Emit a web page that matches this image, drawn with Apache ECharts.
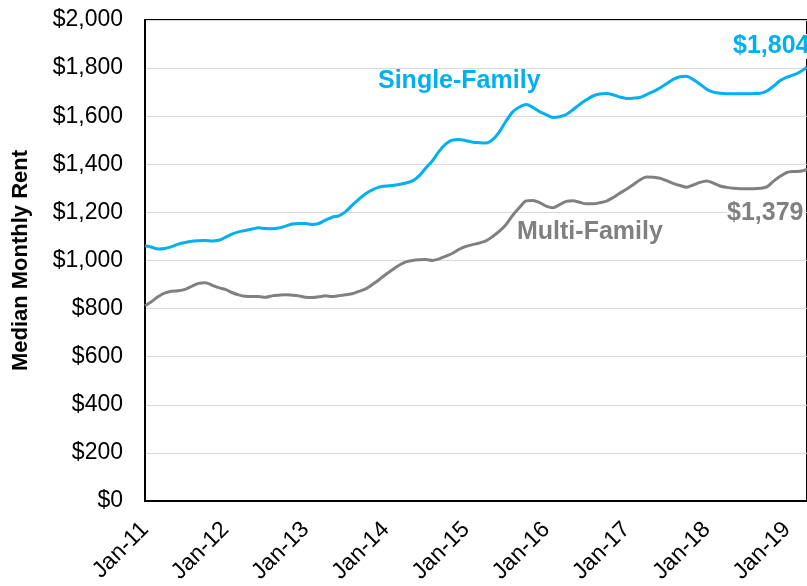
<!DOCTYPE html>
<html>
<head>
<meta charset="utf-8">
<script src="https://cdn.jsdelivr.net/npm/echarts@6/dist/echarts.min.js"></script>
<style>
  html, body { margin: 0; padding: 0; background: #fff; }
  #main { width: 807px; height: 586px; }
</style>
</head>
<body>
<div id="main"></div>
<script>
// month labels Jan-11 .. Apr-19
var monthNames = ['Jan','Feb','Mar','Apr','May','Jun','Jul','Aug','Sep','Oct','Nov','Dec'];
var years = ['11','12','13','14','15','16','17','18','19'];
var lastMonthCount = 4; // data stops in Apr-19

// median monthly rent, single-family
var singleFamily = [
  1061,1055,1048,1050,1058,1068,1075,1080,1082,1083,1081,1084,
  1096,1110,1119,1125,1131,1136,1133,1132,1135,1143,1152,1154,
  1154,1150,1154,1168,1180,1186,1203,1230,1255,1278,1294,1305,
  1310,1312,1316,1322,1331,1352,1385,1415,1455,1485,1501,1503,
  1498,1492,1490,1489,1503,1535,1580,1618,1638,1649,1637,1619,
  1606,1595,1598,1607,1627,1649,1668,1684,1692,1694,1689,1680,
  1674,1675,1678,1690,1702,1717,1735,1753,1764,1766,1752,1733,
  1712,1700,1695,1693,1693,1693,1693,1694,1695,1705,1725,1748,
  1762,1772,1785,1804
];
// median monthly rent, multi-family
var multiFamily = [
  812,830,850,865,872,874,880,893,905,908,898,887,
  880,867,857,851,850,850,847,853,856,858,856,853,
  847,846,849,853,850,854,858,862,872,882,900,920,
  942,962,980,994,1000,1003,1004,1000,1007,1018,1030,1047,
  1059,1066,1073,1082,1100,1122,1150,1188,1220,1248,1250,1241,
  1226,1219,1232,1246,1248,1242,1236,1236,1240,1247,1262,1280,
  1296,1315,1335,1347,1346,1342,1332,1321,1312,1305,1314,1325,
  1331,1322,1310,1304,1300,1298,1298,1298,1300,1306,1330,1350,
  1366,1370,1371,1379
];
var yTicks = [0, 200, 400, 600, 800, 1000, 1200, 1400, 1600, 1800, 2000];

var categories = [];
years.forEach(function (y, k) {
  var n = (k === years.length - 1) ? lastMonthCount : 12;
  for (var m = 0; m < n; m++) categories.push(monthNames[m] + '-' + y);
});

var blue = '#00b0f0', gray = '#808080';
var font = 'Liberation Sans, Arial, sans-serif';

function money(v) {
  return '$' + String(v).replace(/\B(?=(\d{3})+(?!\d))/g, ',');
}

var myChart = echarts.init(document.getElementById('main'));
var option = {
  animation: false,
  backgroundColor: '#fff',
  grid: {
    left: 145, top: 20, width: 664, height: 482,
    show: true, borderColor: '#000', borderWidth: 2
  },
  xAxis: {
    type: 'category',
    data: categories,
    boundaryGap: false,
    axisLine: { lineStyle: { color: '#000', width: 2 } },
    axisTick: { show: false },
    axisLabel: {
      interval: function (i) { return i % 12 === 0; },
      rotate: 45,
      margin: 25,
      color: '#000',
      fontSize: 23,
      fontFamily: font
    },
    splitLine: { show: false }
  },
  yAxis: {
    type: 'value',
    min: yTicks[0],
    max: yTicks[yTicks.length - 1],
    interval: 200,
    name: 'Median Monthly Rent',
    nameLocation: 'middle',
    nameGap: 113,
    nameTextStyle: { fontSize: 22, fontWeight: 'bold', color: '#000', fontFamily: font },
    axisLine: { show: true, lineStyle: { color: '#000', width: 2 } },
    axisTick: { show: false },
    axisLabel: {
      margin: 22,
      color: '#000',
      fontSize: 23,
      fontFamily: font,
      formatter: function (v) { return money(v); }
    },
    splitLine: { lineStyle: { color: '#d9d9d9', width: 1 } }
  },
  series: [{
    name: 'Single-Family',
    type: 'line',
    data: singleFamily,
    smooth: 0.3,
    symbol: 'none',
    lineStyle: { color: blue, width: 3 }
  }, {
    name: 'Multi-Family',
    type: 'line',
    data: multiFamily,
    smooth: 0.3,
    symbol: 'none',
    lineStyle: { color: gray, width: 3 }
  }],
  graphic: [{
    type: 'text', left: 378, top: 69, z: 100,
    style: { text: 'Single-Family', fill: blue, font: 'bold 25px ' + font }
  }, {
    type: 'text', left: 517, top: 220, z: 100,
    style: { text: 'Multi-Family', fill: gray, font: 'bold 25px ' + font, backgroundColor: '#fff' }
  }, {
    type: 'text', left: 727, top: 201, z: 100,
    style: { text: money(multiFamily[multiFamily.length - 1]), fill: gray, font: 'bold 25px ' + font, backgroundColor: '#fff' }
  }, {
    type: 'text', left: 733, top: 34, z: 100,
    style: { text: money(singleFamily[singleFamily.length - 1]), fill: blue, font: 'bold 25px ' + font, backgroundColor: '#fff' }
  }]
};
myChart.setOption(option);
</script>
</body>
</html>
